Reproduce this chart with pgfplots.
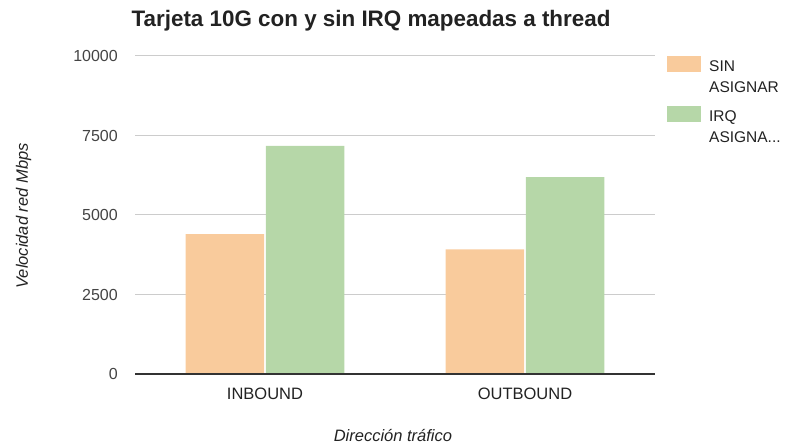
\documentclass[border=0pt]{standalone}
\usepackage{pgfplots}
\pgfplotsset{compat=1.18}
\usepackage{fontspec}
\setmainfont{Liberation Sans}
\definecolor{sinasig}{HTML}{F9CB9C}
\definecolor{irqasig}{HTML}{B6D7A8}
\definecolor{gridc}{HTML}{CCCCCC}
\definecolor{tickc}{HTML}{444444}
\definecolor{textc}{HTML}{222222}
\begin{document}
\begin{tikzpicture}
\useasboundingbox (0,0) rectangle (799bp,444bp);
\begin{axis}[
  at={(135bp,70bp)}, anchor=south west,
  scale only axis, width=520bp, height=318bp,
  xmin=-0.5, xmax=1.5, ymin=0, ymax=10000,
  xtick=data, xticklabels={INBOUND,OUTBOUND},
  ytick={0,2500,5000,7500,10000},
  scaled y ticks=false,
  /pgf/number format/1000 sep={},
  /pgf/number format/assume math mode=true,
  major tick length=0pt,
  axis line style={draw=none},
  ymajorgrids, grid style={color=gridc, line width=1bp},
  ybar, bar width=0.302,
  yticklabel style={anchor=east, xshift=-17bp, inner sep=0pt, font=\fontsize{16bp}{19bp}\selectfont, color=tickc},
  xticklabel style={anchor=base, yshift=-25bp, inner sep=0pt, font=\fontsize{16.5bp}{19bp}\selectfont, color=textc},
  title={\textbf{Tarjeta 10G con y sin IRQ mapeadas a thread}},
  title style={at={(axis description cs:0.454,1.075)}, anchor=base, inner sep=0pt, font=\fontsize{22.4bp}{26bp}\selectfont, color=textc},
  xlabel={\textit{Dirección tráfico}},
  xlabel style={at={(axis description cs:0.496,-0.2138)}, anchor=base, inner sep=0pt, font=\fontsize{16.5bp}{19bp}\selectfont, color=textc},
  ylabel={\textit{Velocidad red Mbps}},
  ylabel style={at={(axis description cs:-0.2058,0.497)}, rotate=0, anchor=base, inner sep=0pt, font=\fontsize{16.5bp}{19bp}\selectfont, color=textc},
  legend style={at={(axis description cs:1.023,1.0)}, anchor=north west, draw=none, fill=none, inner sep=0pt,
    font=\fontsize{15.5bp}{21bp}\selectfont, text=textc, row sep=12.5bp, column sep=8bp,
    nodes={align=left, inner sep=0pt}},
  legend cell align=left,
  legend image code/.code={\fill[#1] (0bp,5bp) rectangle (34bp,21bp);},
]
\addplot[fill=sinasig, draw=none, bar shift=-0.154] coordinates {(0,4400) (1,3920)};
\addlegendentry{SIN\\ASIGNAR}
\addplot[fill=irqasig, draw=none, bar shift=0.154] coordinates {(0,7170) (1,6190)};
\addlegendentry{IRQ\\ASIGNA...}
\draw[color=black!80, line width=1.3bp] (rel axis cs:0,0) -- (rel axis cs:1,0);
\end{axis}
\end{tikzpicture}
\end{document}
